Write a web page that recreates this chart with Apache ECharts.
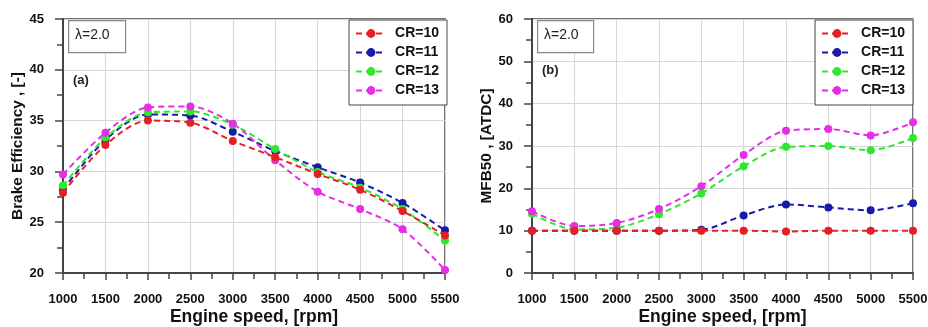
<!DOCTYPE html>
<html>
<head>
<meta charset="utf-8">
<script src="https://cdn.jsdelivr.net/npm/echarts@6/dist/echarts.min.js"></script>
<style>html,body{margin:0;padding:0;background:#fff;}#c{width:928px;height:327px;}</style>
</head>
<body>
<div id="c"></div>
<script>
var speeds = [1000, 1500, 2000, 2500, 3000, 3500, 4000, 4500, 5000, 5500];
var seriesNames = ['CR=10', 'CR=11', 'CR=12', 'CR=13'];
var beCR10 = [27.9, 32.6, 35.0, 34.8, 33.0, 31.4, 29.75, 28.2, 26.1, 23.7];
var beCR11 = [28.2, 33.1, 35.6, 35.5, 33.9, 32.0, 30.4, 28.9, 26.9, 24.2];
var beCR12 = [28.6, 33.3, 35.8, 35.9, 34.6, 32.2, 29.95, 28.4, 26.3, 23.2];
var beCR13 = [29.7, 33.8, 36.3, 36.4, 34.7, 31.1, 28.0, 26.3, 24.3, 20.3];
var mfbCR10 = [10.0, 10.0, 10.0, 10.0, 10.0, 10.0, 9.8, 10.0, 10.0, 10.0];
var mfbCR11 = [10.0, 10.0, 10.0, 10.0, 10.2, 13.6, 16.2, 15.5, 14.8, 16.5];
var mfbCR12 = [14.0, 10.3, 10.7, 13.9, 18.8, 25.2, 29.8, 30.0, 29.0, 31.9];
var mfbCR13 = [14.6, 11.1, 11.8, 15.1, 20.5, 27.9, 33.6, 34.0, 32.5, 35.6];
var xTicks = ['1000','1500','2000','2500','3000','3500','4000','4500','5000','5500'];

var colors = ['#e41f26', '#1a1aa8', '#2ee82e', '#e52ee5'];
var FONT = 'Liberation Sans, Arial, sans-serif';

function pairs(ys) { return speeds.map(function (x, i) { return [x, ys[i]]; }); }

var chart = echarts.init(document.getElementById('c'), null, { renderer: 'canvas' });

function xAxisCfg(gi) {
  return {
    type: 'value', gridIndex: gi, min: 1000, max: 5500, interval: 500,
    name: 'Engine speed, [rpm]', nameLocation: 'middle', nameGap: 35, nameMoveOverlap: false,
    nameTextStyle: { fontFamily: FONT, fontWeight: 'bold', fontSize: 17.5, color: '#111' },
    axisLine: { show: true, lineStyle: { color: '#444', width: 2 } },
    axisTick: { show: true, inside: false, length: 7, lineStyle: { color: '#444', width: 1.5 } },
    minorTick: { show: true, splitNumber: 2, length: 6, lineStyle: { color: '#444', width: 1.5 } },
    axisLabel: { fontFamily: FONT, fontWeight: 'bold', fontSize: 13, color: '#111', margin: 20,
      formatter: function (v) { var i = speeds.indexOf(v); return i >= 0 ? xTicks[i] : ''; } },
    splitLine: { show: true, lineStyle: { color: '#d6d6d6', width: 1 } }
  };
}
function yAxisCfg(gi, min, max, interval, name) {
  return {
    type: 'value', gridIndex: gi, min: min, max: max, interval: interval,
    name: name, nameLocation: 'middle', nameGap: 38, nameMoveOverlap: false,
    nameTextStyle: { fontFamily: FONT, fontWeight: 'bold', fontSize: 15.4, color: '#111' },
    axisLine: { show: true, lineStyle: { color: '#444', width: 2 } },
    axisTick: { show: true, inside: false, length: 8, lineStyle: { color: '#444', width: 1.5 } },
    minorTick: { show: true, splitNumber: 2, length: 6, lineStyle: { color: '#444', width: 1.5 } },
    axisLabel: { fontFamily: FONT, fontWeight: 'bold', fontSize: 13, color: '#111', margin: 19 },
    splitLine: { show: true, lineStyle: { color: '#d6d6d6', width: 1 } }
  };
}

var beData = [beCR10, beCR11, beCR12, beCR13];
var mfbData = [mfbCR10, mfbCR11, mfbCR12, mfbCR13];
var series = [];
var order = [1, 2, 3, 0];
[0, 1].forEach(function (gi) {
  order.forEach(function (k) {
    var d = gi === 0 ? beData[k] : mfbData[k];
    series.push({
      name: seriesNames[k], type: 'line', xAxisIndex: gi, yAxisIndex: gi,
      data: pairs(d), smooth: 0.3, symbol: 'circle', symbolSize: 8,
      z: k === 0 ? 4 : 3,
      itemStyle: { color: colors[k] },
      lineStyle: { color: colors[k], width: 2, type: [6, 4] }
    });
  });
});

function legendCfg(right) {
  return {
    orient: 'vertical', right: right, top: 20, data: seriesNames,
    backgroundColor: '#fff', borderColor: '#444', borderWidth: 1,
    padding: [4, 8, 5, 6], itemGap: 0, itemWidth: 30, itemHeight: 11,
    textStyle: { fontFamily: FONT, fontWeight: 'bold', fontSize: 14, color: '#111', lineHeight: 19, padding: [0, 0, 0, 4] }
  };
}

function lambdaBox(x, y, w) {
  return [
    { type: 'rect', left: x, top: y, shape: { width: w, height: 32 },
      style: { fill: '#fff', stroke: '#888', lineWidth: 1.2 }, z: 10 },
    { type: 'text', left: x + 7, top: y + 8,
      style: { text: 'λ=2.0', fontFamily: FONT, fontSize: 14, fill: '#222' }, z: 11 }
  ];
}

chart.setOption({
  animation: false,
  backgroundColor: '#fff',
  color: colors,
  grid: [
    { left: 63, right: 483, top: 19, bottom: 54, outerBoundsMode: 'none', containLabel: false, show: true, borderColor: '#444', borderWidth: 1.5, backgroundColor: 'transparent' },
    { left: 532, right: 15, top: 19, bottom: 54, outerBoundsMode: 'none', containLabel: false, show: true, borderColor: '#444', borderWidth: 1.5, backgroundColor: 'transparent' }
  ],
  xAxis: [xAxisCfg(0), xAxisCfg(1)],
  yAxis: [yAxisCfg(0, 20, 45, 5, 'Brake Efficiency , [-]'), yAxisCfg(1, 0, 60, 10, 'MFB50 , [ATDC]')],
  legend: [legendCfg(928 - 447), legendCfg(15)],
  series: series,
  graphic: lambdaBox(68, 20, 57).concat(lambdaBox(537, 20, 56)).concat([
    { type: 'text', left: 73, top: 74, style: { text: '(a)', fontFamily: FONT, fontWeight: 'bold', fontSize: 13, fill: '#222' }, z: 11 },
    { type: 'text', left: 542, top: 64, style: { text: '(b)', fontFamily: FONT, fontWeight: 'bold', fontSize: 13, fill: '#222' }, z: 11 }
  ])
});
</script>
</body>
</html>
